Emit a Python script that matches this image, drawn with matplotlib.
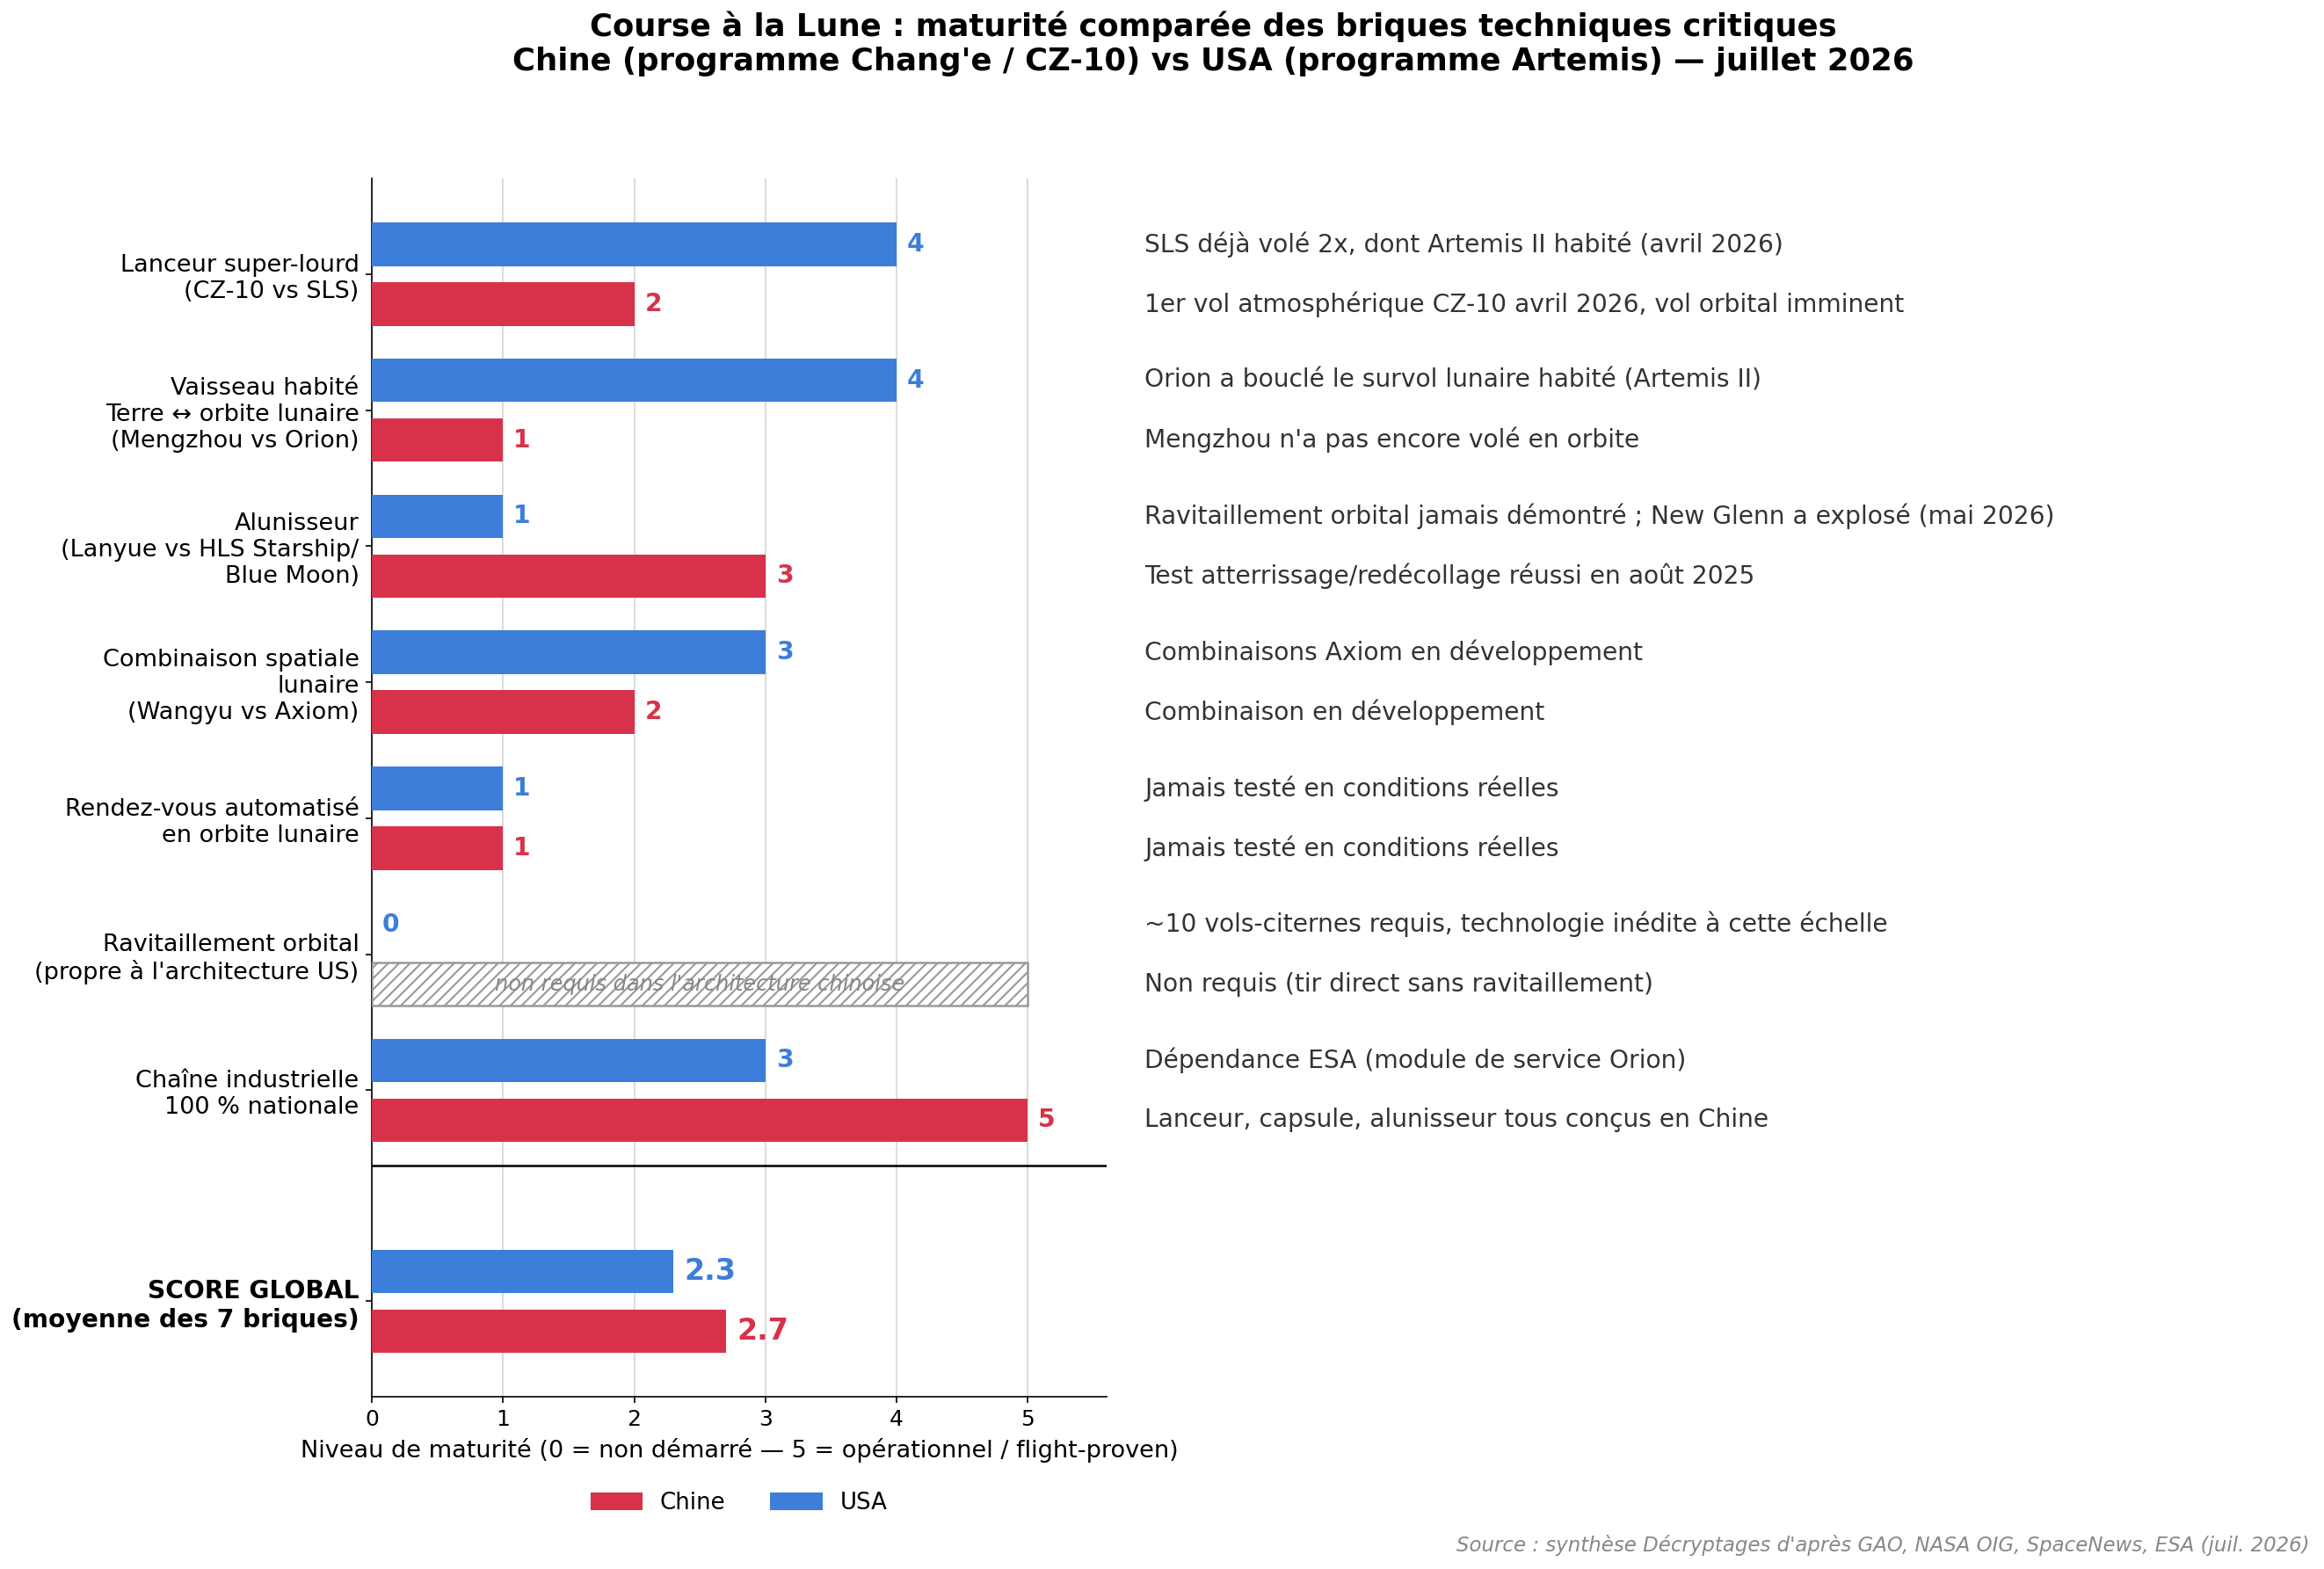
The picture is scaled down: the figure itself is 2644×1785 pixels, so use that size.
import numpy as np
import matplotlib.pyplot as plt
from matplotlib.patches import Patch

# briques techniques (du haut vers le bas)
categories = [
    "Lanceur super-lourd\n(CZ-10 vs SLS)",
    "Vaisseau habité\nTerre ↔ orbite lunaire\n(Mengzhou vs Orion)",
    "Alunisseur\n(Lanyue vs HLS Starship/\nBlue Moon)",
    "Combinaison spatiale\nlunaire\n(Wangyu vs Axiom)",
    "Rendez-vous automatisé\nen orbite lunaire",
    "Ravitaillement orbital\n(propre à l'architecture US)",
    "Chaîne industrielle\n100 % nationale",
]
chine = [2, 1, 3, 2, 1, None, 5]
usa = [4, 4, 1, 3, 1, 0, 3]

notes_usa = [
    "SLS déjà volé 2x, dont Artemis II habité (avril 2026)",
    "Orion a bouclé le survol lunaire habité (Artemis II)",
    "Ravitaillement orbital jamais démontré ; New Glenn a explosé (mai 2026)",
    "Combinaisons Axiom en développement",
    "Jamais testé en conditions réelles",
    "~10 vols-citernes requis, technologie inédite à cette échelle",
    "Dépendance ESA (module de service Orion)",
]
notes_chine = [
    "1er vol atmosphérique CZ-10 avril 2026, vol orbital imminent",
    "Mengzhou n'a pas encore volé en orbite",
    "Test atterrissage/redécollage réussi en août 2025",
    "Combinaison en développement",
    "Jamais testé en conditions réelles",
    "Non requis (tir direct sans ravitaillement)",
    "Lanceur, capsule, alunisseur tous conçus en Chine",
]

score_label = "SCORE GLOBAL\n(moyenne des 7 briques)"
score_chine = 2.7
score_usa = 2.3

RED = "#D7324A"
BLUE = "#3C7ED9"

fig = plt.figure(figsize=(17.63, 11.9), dpi=150)
ax = fig.add_axes([0.160, 0.110, 0.316, 0.776])

y = np.arange(len(categories))
y_score = len(categories) - 1 + 1.55
h = 0.32
d = 0.22

for i in range(len(categories)):
    ax.barh(y[i] - d, usa[i], height=h, color=BLUE, zorder=3)
    ax.text(usa[i] + 0.08, y[i] - d, str(usa[i]), color=BLUE, fontsize=13.5,
            fontweight="bold", va="center", ha="left")
    if chine[i] is None:
        ax.barh(y[i] + d, 5, height=h, color="white", edgecolor="#999999",
                hatch="////", linewidth=1.2, zorder=3)
        ax.text(2.5, y[i] + d, "non requis dans l'architecture chinoise",
                color="#888888", fontsize=11.5, style="italic",
                ha="center", va="center", zorder=4)
    else:
        ax.barh(y[i] + d, chine[i], height=h, color=RED, zorder=3)
        ax.text(chine[i] + 0.08, y[i] + d, str(chine[i]), color=RED,
                fontsize=13.5, fontweight="bold", va="center", ha="left")
    ax.text(5.89, y[i] - d, notes_usa[i], color="#333333", fontsize=13.5,
            va="center", ha="left", clip_on=False)
    ax.text(5.89, y[i] + d, notes_chine[i], color="#333333", fontsize=13.5,
            va="center", ha="left", clip_on=False)

ax.barh(y_score - d, score_usa, height=h, color=BLUE, zorder=3)
ax.barh(y_score + d, score_chine, height=h, color=RED, zorder=3)
ax.text(score_usa + 0.08, y_score - d, f"{score_usa:.1f}", color=BLUE,
        fontsize=16, fontweight="bold", va="center", ha="left")
ax.text(score_chine + 0.08, y_score + d, f"{score_chine:.1f}", color=RED,
        fontsize=16, fontweight="bold", va="center", ha="left")

ax.axhline(len(categories) - 1 + 0.55, color="black", linewidth=1.2)

ax.set_yticks(list(y) + [y_score])
ax.set_yticklabels(categories + [score_label], fontsize=13)
ax.get_yticklabels()[-1].set_fontweight("bold")
ax.get_yticklabels()[-1].set_fontsize(13.5)
ax.set_ylim(y_score + 0.7, -0.7)
ax.set_xlim(0, 5.6)
ax.set_xticks(range(6))
ax.tick_params(axis="x", labelsize=12)
ax.set_xlabel("Niveau de maturité (0 = non démarré — 5 = opérationnel / flight-proven)",
              fontsize=13)
ax.grid(axis="x", color="#dddddd", linewidth=1, zorder=0)
ax.set_axisbelow(True)
for s in ["top", "right"]:
    ax.spines[s].set_visible(False)

handles = [Patch(color=RED, label="Chine"), Patch(color=BLUE, label="USA")]
fig.legend(handles=handles, loc="center", bbox_to_anchor=(0.318, 0.042),
           ncol=2, frameon=False, fontsize=12.5, handlelength=2.2,
           columnspacing=2)

fig.suptitle("Course à la Lune : maturité comparée des briques techniques critiques\n"
             "Chine (programme Chang'e / CZ-10) vs USA (programme Artemis) — juillet 2026",
             x=0.522, y=0.993, va="top", fontsize=17, fontweight="bold")

fig.text(0.9936, 0.015,
         "Source : synthèse Décryptages d'après GAO, NASA OIG, SpaceNews, ESA (juil. 2026)",
         ha="right", va="center", fontsize=11, style="italic", color="#888888")

fig.savefig("out.png", dpi=150)
